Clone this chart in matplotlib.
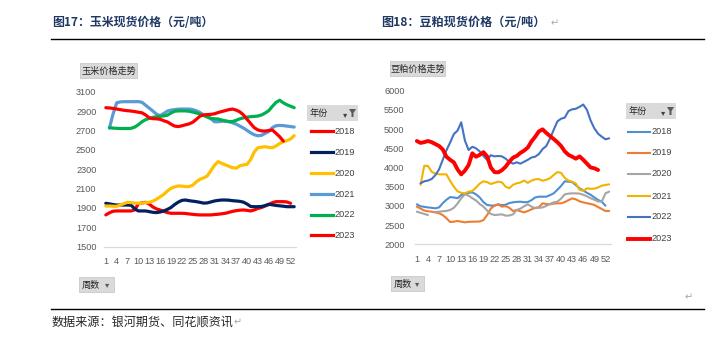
import matplotlib
matplotlib.use('Agg')
import matplotlib.pyplot as plt
import numpy as np
from matplotlib.patches import Rectangle, Polygon
from matplotlib.lines import Line2D

W, H = 715, 341
N = None

# ---------------- data ----------------
years = ['2018', '2019', '2020', '2021', '2022', '2023']
tick_weeks = list(range(1, 53, 3))

corn_2018 = [1828, 1850, 1866, 1869, 1869, 1869, 1869, 1869, 1880, 1945, 1952, 1958, 1940, 1910, 1890, 1879,
             1865, 1852, 1845, 1845, 1845, 1845, 1843, 1838, 1834, 1830, 1828, 1828, 1828, 1828, 1832, 1835,
             1840, 1845, 1855, 1865, 1872, 1877, 1879, 1875, 1869, 1880, 1895, 1905, 1920, 1937, 1955, 1965,
             1965, 1965, 1962, 1948]
corn_2019 = [1948, 1942, 1935, 1930, 1930, 1930, 1930, 1928, 1890, 1869, 1869, 1869, 1862, 1855, 1852, 1858,
             1869, 1885, 1905, 1935, 1960, 1978, 1982, 1975, 1970, 1965, 1958, 1950, 1952, 1962, 1972, 1978,
             1982, 1982, 1980, 1975, 1972, 1968, 1960, 1940, 1915, 1913, 1913, 1915, 1925, 1937, 1932, 1926,
             1922, 1918, 1913, 1913, 1913]
corn_2020 = [1920, 1920, 1918, 1917, 1930, 1945, 1958, 1955, 1950, 1948, 1950, 1955, 1958, 1970, 1990, 2015,
             2040, 2075, 2103, 2118, 2127, 2125, 2120, 2120, 2135, 2170, 2196, 2210, 2230, 2285, 2340, 2378,
             2360, 2345, 2330, 2315, 2310, 2335, 2345, 2350, 2400, 2480, 2522, 2528, 2532, 2525, 2522, 2540,
             2565, 2585, 2595, 2612, 2646]
corn_2021 = [N, 2725, 2870, 2985, 2995, 2997, 2997, 2997, 2997, 2998, 2990, 2960, 2930, 2900, 2868, 2852,
             2875, 2900, 2910, 2915, 2920, 2921, 2921, 2921, 2915, 2903, 2885, 2860, 2845, 2820, 2790, 2790,
             2795, 2797, 2790, 2778, 2765, 2745, 2725, 2700, 2675, 2655, 2645, 2650, 2670, 2690, 2730, 2749,
             2752, 2750, 2745, 2740, 2735]
corn_2022 = [N, 2728, 2724, 2722, 2720, 2720, 2720, 2722, 2735, 2760, 2790, 2812, 2825, 2835, 2842, 2846,
             2850, 2858, 2880, 2898, 2902, 2902, 2902, 2898, 2890, 2880, 2870, 2855, 2838, 2825, 2820, 2818,
             2808, 2798, 2792, 2792, 2805, 2820, 2830, 2838, 2842, 2845, 2849, 2860, 2880, 2905, 2950, 2990,
             3012, 2985, 2965, 2950, 2935]
corn_2023 = [2935, 2932, 2928, 2921, 2915, 2908, 2904, 2900, 2895, 2888, 2882, 2860, 2830, 2822, 2820, 2815,
             2800, 2788, 2765, 2745, 2740, 2748, 2758, 2768, 2785, 2815, 2848, 2860, 2864, 2866, 2872, 2885,
             2895, 2905, 2915, 2921, 2910, 2892, 2860, 2815, 2770, 2728, 2705, 2695, 2694, 2700, 2704, 2670,
             2635, 2590]

soy_2018 = [3041, 2990, 2975, 2960, 2950, 2937, 2960, 3070, 3160, 3230, 3220, 3200, 3284, 3310, 3340, 3353,
            3300, 3220, 3100, 3024, 3010, 3006, 3040, 3020, 3030, 3075, 3093, 3105, 3110, 3095, 3100, 3150,
            3220, 3240, 3240, 3240, 3280, 3327, 3420, 3520, 3640, 3631, 3620, 3540, 3458, 3400, 3340, 3290,
            3220, 3154, 3110, 3006]
soy_2019 = [2980, 2930, 2880, 2860, 2850, 2830, 2810, 2760, 2680, 2580, 2590, 2607, 2590, 2572, 2585, 2590,
            2590, 2595, 2630, 2760, 2930, 3010, 3041, 2980, 2995, 2950, 2867, 2893, 2860, 2832, 2867, 2910,
            2950, 2970, 3067, 3050, 3041, 3060, 3067, 3067, 3100, 3150, 3197, 3170, 3120, 3090, 3070, 3050,
            3024, 2970, 2920, 2867, 2867]
soy_2020 = [2850, 2820, 2790, 2763, N, 2840, 2850, 2860, 2870, 2893, 2950, 3060, 3200, 3301, 3266, 3200,
            3140, 3050, 2980, 2880, 2790, 2763, 2770, 2780, 2746, 2750, 2780, 2893, 2930, 2990, 3041, 2980,
            2940, 2950, 2960, 3000, 3050, 3093, 3110, 3190, 3300, 3320, 3327, 3327, 3320, 3290, 3250, 3200,
            3160, 3115, 3110, 3327, 3371]
soy_2021 = [N, 3550, 4045, 4040, 3890, 3840, 3822, 3822, 3822, 3650, 3500, 3380, 3340, 3330, 3371, 3385,
            3480, 3580, 3640, 3620, 3570, 3600, 3631, 3614, 3500, 3460, 3550, 3588, 3610, 3660, 3600, 3660,
            3690, 3700, 3655, 3680, 3720, 3805, 3880, 3860, 3730, 3660, 3630, 3580, 3420, 3390, 3458, 3445,
            3450, 3480, 3527, 3545, 3562]
soy_2022 = [N, 3588, 3640, 3660, 3700, 3800, 3950, 4200, 4450, 4650, 4870, 4960, 5176, 4700, 4456, 4540,
            4500, 4420, 4300, 4200, 4320, 4290, 4300, 4290, 4230, 4150, 4100, 4135, 4100, 4150, 4200, 4260,
            4282, 4350, 4480, 4560, 4750, 4980, 5200, 5270, 5300, 5470, 5515, 5530, 5580, 5640, 5500, 5220,
            5020, 4880, 4803, 4734, 4760]
soy_2023 = [4690, 4640, 4660, 4690, 4660, 4610, 4560, 4470, 4280, 4200, 4135, 3950, 3822, 3920, 4065, 4370,
            4280, 4330, 4400, 4290, 4000, 3880, 3874, 3930, 4020, 4150, 4256, 4300, 4380, 4440, 4520, 4680,
            4800, 4940, 4994, 4900, 4820, 4742, 4660, 4560, 4420, 4330, 4282, 4230, 4290, 4200, 4100, 4000,
            3980, 3935]

corn_series = [corn_2018, corn_2019, corn_2020, corn_2021, corn_2022, corn_2023]
soy_series = [soy_2018, soy_2019, soy_2020, soy_2021, soy_2022, soy_2023]

corn_colors = ['#FF0000', '#002060', '#FFC000', '#5B9BD5', '#00B050', '#FF0000']
soy_colors = ['#4F8FCF', '#ED7D31', '#A5A5A5', '#F0B400', '#4472C4', '#FF0000']
corn_lw = [2.3] * 6
soy_lw = [1.5, 1.5, 1.5, 1.5, 1.5, 2.8]

CJK = ['Noto Sans CJK SC', 'DejaVu Sans']
NUM = ['Liberation Sans', 'DejaVu Sans']
NARROW = ['Liberation Sans Narrow', 'Liberation Sans', 'DejaVu Sans']

fig = plt.figure(figsize=(W / 100, H / 100), dpi=100)
fig.patch.set_facecolor('white')


def fx(x):
    return x / W


def fy(y):
    return 1 - y / H


def rect(x0, y0, x1, y1, fc, ec='none', lw=0.6):
    fig.add_artist(Rectangle((fx(x0), fy(y1)), (x1 - x0) / W, (y1 - y0) / H,
                             transform=fig.transFigure, facecolor=fc, edgecolor=ec, lw=lw))


def hline(x0, x1, y, color='black', lw=1.0):
    fig.add_artist(Line2D([fx(x0), fx(x1)], [fy(y), fy(y)], transform=fig.transFigure,
                          color=color, lw=lw))


def funnel(x, y):
    pts = [(x, y), (x + 7, y), (x + 4.5, y + 4), (x + 4.5, y + 8), (x + 2.5, y + 8), (x + 2.5, y + 4)]
    fig.add_artist(Polygon([(fx(a), fy(b)) for a, b in pts], closed=True,
                           transform=fig.transFigure, facecolor='#595959', edgecolor='none'))


# ---------------- titles and frame ----------------
title_color = '#1F3864'
fig.text(fx(52), fy(23), '图17：玉米现货价格（元/吨）', family=CJK, fontsize=8.6,
         fontweight='bold', color=title_color, va='center', ha='left')
fig.text(fx(381), fy(23), '图18：豆粕现货价格（元/吨）', family=CJK, fontsize=8.7,
         fontweight='bold', color=title_color, va='center', ha='left')
fig.text(fx(551), fy(23), '↵', family=['DejaVu Sans'], fontsize=7, color='#A6A6A6',
         va='center', ha='left')
hline(51, 704, 39, lw=1.0)
hline(51, 704, 309, lw=1.0)
fig.text(fx(52), fy(322), '数据来源：银河期货、同花顺资讯', family=CJK, fontsize=8.7,
         color='#262626', va='center', ha='left')
fig.text(fx(234), fy(322), '↵', family=['DejaVu Sans'], fontsize=7, color='#A6A6A6',
         va='center', ha='left')
fig.text(fx(685), fy(297), '↵', family=['DejaVu Sans'], fontsize=7, color='#A6A6A6',
         va='center', ha='left')


def make_chart(ax_box, ylim, ystep, series, colors, lws, btn, btn_box, zhou_box,
               leg_box, leg_x0, leg_ys, ylab_pad):
    x0, y0, x1, y1 = ax_box
    ax = fig.add_axes([fx(x0), fy(y1), (x1 - x0) / W, (y1 - y0) / H])
    ax.set_facecolor('none')
    for s in ['top', 'right', 'left']:
        ax.spines[s].set_visible(False)
    ax.spines['bottom'].set_color('#D9D9D9')
    ax.spines['bottom'].set_linewidth(0.9)
    for vals, c, lw in zip(series, colors, lws):
        arr = np.array([np.nan if v is None else v for v in vals], dtype=float)
        xs = np.arange(1, len(arr) + 1)
        ax.plot(xs, arr, color=c, lw=lw, solid_capstyle='round', solid_joinstyle='round',
                clip_on=False)
    ax.set_xlim(0.5, 53.5)
    ax.set_ylim(*ylim)
    ax.set_yticks(np.arange(ylim[0], ylim[1] + 1, ystep))
    ax.set_yticklabels([str(v) for v in range(ylim[0], ylim[1] + 1, ystep)],
                       family=NUM, fontsize=6.6, color='#595959')
    ax.set_xticks(tick_weeks)
    ax.set_xticklabels([str(w) for w in tick_weeks], family=NARROW, fontsize=6.6,
                       color='#595959')
    ax.tick_params(axis='both', length=0)
    ax.tick_params(axis='y', pad=ylab_pad)
    ax.tick_params(axis='x', pad=7.5)

    # chart title button
    bx0, by0, bx1, by1 = btn_box
    rect(bx0, by0, bx1, by1, '#DADADA', '#C9C9C9')
    fig.text(fx((bx0 + bx1) / 2), fy((by0 + by1) / 2 + 0.5), btn, family=CJK, fontsize=6.6,
             color='#262626', ha='center', va='center')
    # week button
    zx0, zy0, zx1, zy1 = zhou_box
    rect(zx0, zy0, zx1, zy1, '#DADADA', '#C9C9C9')
    fig.text(fx(zx0 + 3), fy((zy0 + zy1) / 2 + 0.5), '周数', family=CJK, fontsize=6.6,
             color='#262626', ha='left', va='center')
    fig.text(fx(zx1 - 9), fy((zy0 + zy1) / 2 + 0.5), '▾', family=['DejaVu Sans'], fontsize=6,
             color='#595959', ha='left', va='center')
    # legend header
    lx0, ly0, lx1, ly1 = leg_box
    rect(lx0, ly0, lx1, ly1, '#DADADA', 'none')
    fig.text(fx(lx0 + 3), fy((ly0 + ly1) / 2 + 0.5), '年份', family=CJK, fontsize=6.6,
             color='#262626', ha='left', va='center')
    fig.text(fx(lx1 - 15), fy((ly0 + ly1) / 2 + 1.5), '▾', family=['DejaVu Sans'], fontsize=6,
             color='#404040', ha='left', va='center')
    funnel(lx1 - 9, ly0 + 4)
    for yr, c, lw, yy in zip(years, colors, lws, leg_ys):
        fig.add_artist(Line2D([fx(leg_x0), fx(leg_x0 + 22)], [fy(yy), fy(yy)],
                              transform=fig.transFigure, color=c, lw=lw))
        fig.text(fx(leg_x0 + 23), fy(yy), yr, family=NUM, fontsize=6.6, color='#404040',
                 ha='left', va='center')
    return ax


make_chart((104, 91.7, 296, 246.7), (1500, 3100), 200, corn_series, corn_colors, corn_lw,
           '玉米价格走势', (80, 63, 137, 78), (79, 277, 114, 292),
           (307, 105, 358, 121), 311, [131, 152, 173, 194, 214.5, 235], 5.5)

make_chart((415, 90.7, 611, 244.3), (2000, 6000), 500, soy_series, soy_colors, soy_lw,
           '豆粕价格走势', (390, 61, 445, 76), (391, 276, 424, 291),
           (626, 103, 676, 119), 628, [132, 152.5, 173.5, 196, 216.5, 238.5], 7.5)

fig.savefig('out.png', dpi=100, facecolor='white')
